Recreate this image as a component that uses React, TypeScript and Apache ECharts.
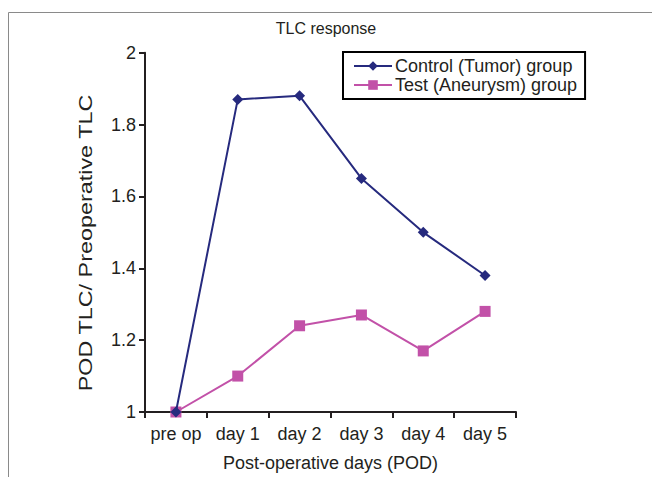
import React, { useEffect, useRef } from "react";
import * as echarts from "echarts";

const categories = ["pre op", "day 1", "day 2", "day 3", "day 4", "day 5"];
const controlValues = [1, 1.87, 1.88, 1.65, 1.5, 1.38];
const testValues = [1, 1.1, 1.24, 1.27, 1.17, 1.28];
const seriesNames = ["Control (Tumor) group", "Test (Aneurysm) group"];
const yAxisTitle = "POD TLC/ Preoperative TLC";

const FONT = "'Liberation Sans', Arial, sans-serif";
const AX = "#231f20";

export default function App() {
  const ref = useRef<HTMLDivElement>(null);
  useEffect(() => {
    if (!ref.current) return;
    const chart = echarts.init(ref.current, null, { renderer: "svg" });
    chart.setOption({
      animation: false,
      backgroundColor: "#ffffff",
      textStyle: { fontFamily: FONT },
      title: {
        text: "TLC response",
        left: "center",
        top: 15,
        textStyle: { fontFamily: FONT, fontSize: 16, fontWeight: "normal", color: AX },
      },
      graphic: [
        {
          type: "rect",
          shape: { x: 8.5, y: 12.5, width: 700, height: 500 },
          style: { fill: "none", stroke: "#8a8a8a", lineWidth: 1 },
          silent: true,
        },
        {
          type: "text",
          x: 86,
          y: 243,
          rotation: Math.PI / 2,
          scaleX: 1.3,
          style: {
            text: yAxisTitle,
            font: "18px 'Liberation Sans', Arial, sans-serif",
            fill: AX,
            align: "center",
            verticalAlign: "middle",
          },
          silent: true,
        },
      ],
      legend: {
        left: 343,
        top: 52,
        orient: "vertical",
        padding: [5, 8, 5, 10],
        itemGap: 1,
        itemWidth: 38,
        itemHeight: 12,
        borderColor: "#000",
        borderWidth: 2,
        borderRadius: 0,
        backgroundColor: "#fff",
        textStyle: { fontFamily: FONT, fontSize: 18, color: AX, padding: [0, 0, 0, -2] },
        data: seriesNames,
      },
      grid: { left: 145, right: 136, top: 52.7, bottom: 63, containLabel: false },
      xAxis: {
        type: "category",
        data: categories,
        boundaryGap: true,
        name: "Post-operative days (POD)",
        nameLocation: "middle",
        nameGap: 42,
        nameTextStyle: { fontFamily: FONT, fontSize: 18, color: AX },
        axisLine: { lineStyle: { color: AX, width: 2 } },
        axisTick: { show: true, length: 6, interval: 0, alignWithLabel: false, lineStyle: { color: AX, width: 2 } },
        axisLabel: { fontFamily: FONT, fontSize: 18, color: AX, margin: 13, interval: 0 },
        splitLine: { show: false },
      },
      yAxis: {
        type: "value",
        min: 1,
        max: 2,
        interval: 0.2,
        axisLine: { show: true, lineStyle: { color: AX, width: 2 } },
        axisTick: { show: true, length: 6, lineStyle: { color: AX, width: 2 } },
        axisLabel: { fontFamily: FONT, fontSize: 18, color: AX, margin: 9 },
        splitLine: { show: false },
      },
      series: [
        {
          name: seriesNames[0],
          type: "line",
          data: controlValues,
          symbol: "diamond",
          symbolSize: 11,
          lineStyle: { color: "#262a7e", width: 2 },
          itemStyle: { color: "#262a7e" },
          z: 3,
        },
        {
          name: seriesNames[1],
          type: "line",
          data: testValues,
          symbol: "rect",
          symbolSize: 11,
          lineStyle: { color: "#c251a8", width: 2 },
          itemStyle: { color: "#c251a8" },
          z: 2,
        },
      ],
    });
    return () => chart.dispose();
  }, []);
  return (
    <div
      ref={ref}
      style={{ position: "fixed", left: 0, top: 0, width: 652, height: 477 }}
    />
  );
}
